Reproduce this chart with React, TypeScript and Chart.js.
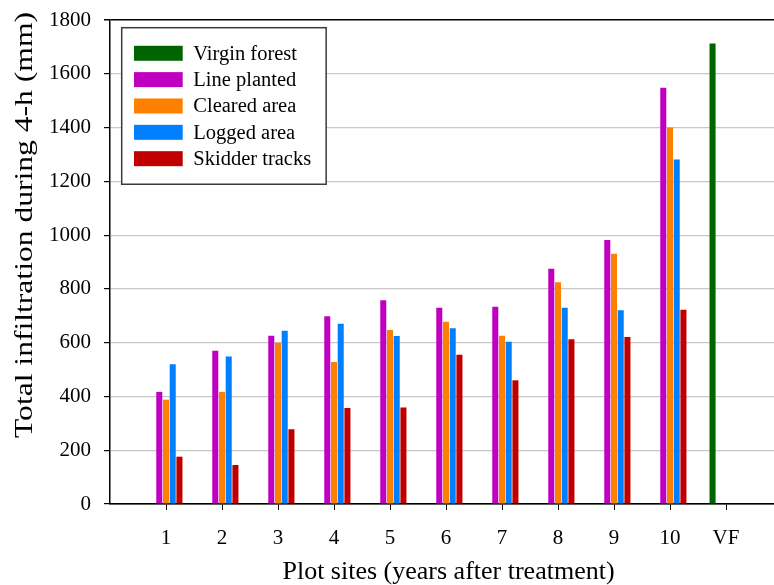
import { useEffect, useRef } from 'react';
import { Chart, registerables } from 'chart.js';

Chart.register(...registerables);

// Plot sites on the x axis: years after treatment, plus the virgin forest reference site
const siteLabels = ['1', '2', '3', '4', '5', '6', '7', '8', '9', '10', 'VF'];
const treatedSites = [1, 2, 3, 4, 5, 6, 7, 8, 9, 10];
const virginForestSite = 11;

// Total infiltration during 4 h (mm)
const virginForest = [1713];
const linePlanted = [417, 570, 626, 698, 758, 730, 734, 875, 982, 1548];
const clearedArea = [388, 417, 600, 528, 647, 678, 626, 825, 931, 1400];
const loggedArea = [520, 549, 644, 670, 625, 654, 603, 730, 721, 1281];
const skidderTracks = [176, 145, 278, 357, 359, 555, 460, 613, 621, 722];

const yTicks = [0, 200, 400, 600, 800, 1000, 1200, 1400, 1600, 1800];

const W = 774;
const H = 585;
const FONT = "'Liberation Serif', 'Times New Roman', Times, serif";
const Y_TITLE = 'Total infiltration during 4-h (mm)';
const X_TITLE = 'Plot sites (years after treatment)';

const AXIS_LEFT = 110;
const UNIT_PX = 56;
const X_MAX = (W - AXIS_LEFT) / UNIT_PX;

const bar = (label: string, color: string, xs: number[], ys: number[]) => ({
  label,
  backgroundColor: color,
  borderWidth: 0,
  categoryPercentage: 0.6,
  barPercentage: 0.9,
  data: xs.map((x, i) => ({ x, y: ys[i] })),
});

// Framed legend drawn inside the plot area, top-left
const boxLegend = {
  id: 'boxLegend',
  afterDraw(chart: any) {
    const { ctx, chartArea } = chart;
    const left = chartArea.left + 11.7;
    const top = chartArea.top + 7.7;
    const padX = 12.3;
    const swW = 48.7;
    const swH = 15;
    const gap = 10.6;
    const rowH = 26.35;
    const padY = 12.4;
    const padR = 15;
    ctx.save();
    ctx.font = `20.5px ${FONT}`;
    const items = chart.data.datasets.map((d: any) => ({ label: d.label, color: d.backgroundColor }));
    const textW = Math.max(...items.map((it: any) => ctx.measureText(it.label).width));
    const width = padX + swW + gap + textW + padR;
    const height = padY * 2 + rowH * items.length;
    ctx.fillStyle = '#ffffff';
    ctx.fillRect(left, top, width, height);
    ctx.strokeStyle = '#3a3a3a';
    ctx.lineWidth = 1.5;
    ctx.strokeRect(left, top, width, height);
    ctx.textAlign = 'left';
    ctx.textBaseline = 'middle';
    items.forEach((it: any, i: number) => {
      const cy = top + padY + rowH * (i + 0.5);
      ctx.fillStyle = it.color;
      ctx.fillRect(left + padX, cy - swH / 2, swW, swH);
      ctx.fillStyle = '#000000';
      ctx.fillText(it.label, left + padX + swW + gap, cy + 1);
    });
    ctx.restore();
  },
};

// Axis titles: the vertical one sits a little above the plot's centre and is drawn long
const axisTitles = {
  id: 'axisTitles',
  afterDraw(chart: any) {
    const { ctx } = chart;
    ctx.save();
    ctx.fillStyle = '#000000';
    ctx.textAlign = 'center';
    ctx.textBaseline = 'alphabetic';

    ctx.font = `26px ${FONT}`;
    ctx.fillText(X_TITLE, 448.5, 578.5);

    const w = ctx.measureText(Y_TITLE).width;
    ctx.translate(31.7, 225);
    ctx.rotate(-Math.PI / 2);
    ctx.scale(426 / w, 1);
    ctx.fillText(Y_TITLE, 0, 0);
    ctx.restore();
  },
};

export default function App() {
  const canvasRef = useRef<HTMLCanvasElement>(null);

  useEffect(() => {
    document.body.style.margin = '0';
    const canvas = canvasRef.current;
    if (!canvas) return;

    const chart = new Chart(canvas, {
      type: 'bar',
      data: {
        datasets: [
          bar('Virgin forest', '#006400', [virginForestSite], virginForest),
          bar('Line planted', '#c000c0', treatedSites, linePlanted),
          bar('Cleared area', '#ff8000', treatedSites, clearedArea),
          bar('Logged area', '#0080ff', treatedSites, loggedArea),
          bar('Skidder tracks', '#c00000', treatedSites, skidderTracks),
        ] as any,
      },
      options: {
        responsive: false,
        animation: false,
        devicePixelRatio: 1,
        layout: { padding: { top: 20, right: 0, bottom: 0, left: 0 } },
        plugins: {
          legend: { display: false },
          tooltip: { enabled: false },
        },
        scales: {
          x: {
            type: 'linear',
            min: 0,
            max: X_MAX,
            offset: false,
            afterBuildTicks: (scale: any) => {
              scale.ticks = siteLabels.map((_, i) => ({ value: i + 1 }));
            },
            afterFit: (scale: any) => {
              scale.height = H - 504;
              scale.paddingLeft = 0;
              scale.paddingRight = 0;
            },
            grid: {
              offset: false,
              drawOnChartArea: false,
              drawTicks: true,
              tickLength: 6,
              tickColor: '#000000',
              lineWidth: 1,
            },
            border: { display: true, color: '#000000', width: 1.5 },
            ticks: {
              autoSkip: false,
              maxRotation: 0,
              padding: 18,
              color: '#000000',
              font: { family: FONT, size: 21, lineHeight: 1 },
              callback: (value: any) => siteLabels[Number(value) - 1] ?? '',
            },
            title: { display: false },
          },
          y: {
            min: 0,
            max: 1800,
            afterBuildTicks: (scale: any) => {
              scale.ticks = yTicks.map((v) => ({ value: v }));
            },
            afterFit: (scale: any) => {
              scale.width = AXIS_LEFT;
              scale.paddingTop = 0;
              scale.paddingBottom = 0;
            },
            grid: {
              color: (c: any) =>
                c.tick && (c.tick.value === 1800 || c.tick.value === 0) ? '#000000' : '#c8c8c8',
              lineWidth: (c: any) => (c.tick && c.tick.value === 1800 ? 1.5 : 1.2),
              tickColor: '#000000',
              tickLength: 6,
              drawTicks: true,
            },
            border: { display: true, color: '#000000', width: 1.5 },
            ticks: {
              padding: 13,
              color: '#000000',
              font: { family: FONT, size: 21, lineHeight: 1 },
              callback: (value: any) => String(value),
            },
            title: { display: false },
          },
        },
      } as any,
      plugins: [boxLegend, axisTitles],
    });

    return () => chart.destroy();
  }, []);

  return (
    <div style={{ width: W, height: H }}>
      <canvas ref={canvasRef} width={W} height={H} style={{ display: 'block' }} />
    </div>
  );
}
